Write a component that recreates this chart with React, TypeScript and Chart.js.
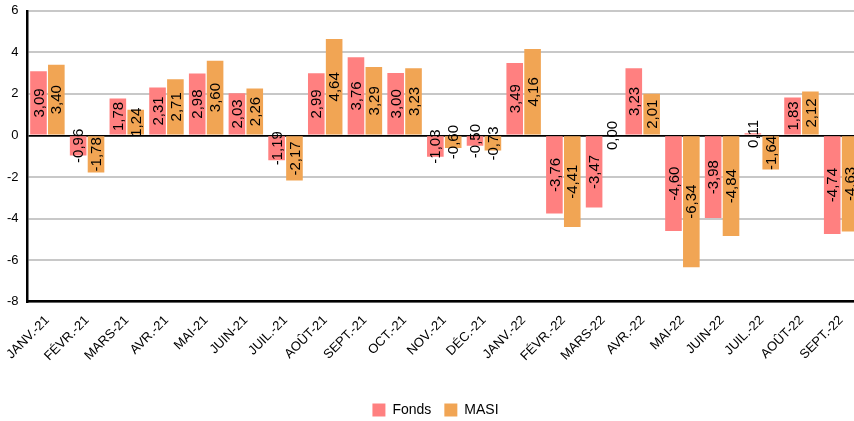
import React, { useEffect, useRef } from "react";
import { Chart, registerables } from "chart.js";

Chart.register(...registerables);

const categories = [
  "JANV.-21", "FÉVR.-21", "MARS-21", "AVR.-21", "MAI-21", "JUIN-21", "JUIL.-21",
  "AOÛT-21", "SEPT.-21", "OCT.-21", "NOV.-21", "DÉC.-21", "JANV.-22", "FÉVR.-22",
  "MARS-22", "AVR.-22", "MAI-22", "JUIN-22", "JUIL.-22", "AOÛT-22", "SEPT.-22",
];

const fonds = [
  3.09, -0.96, 1.78, 2.31, 2.98, 2.03, -1.19, 2.99, 3.76, 3.0, -1.03, -0.5, 3.49,
  -3.76, -3.47, 3.23, -4.6, -3.98, 0.11, 1.83, -4.74,
];

const masi = [
  3.4, -1.78, 1.24, 2.71, 3.6, 2.26, -2.17, 4.64, 3.29, 3.23, -0.6, -0.73, 4.16,
  -4.41, 0.0, 2.01, -6.34, -4.84, -1.64, 2.12, -4.63,
];

const yMin = -8;
const yMax = 6;
const yStep = 2;

const FONT = "'Liberation Sans', Arial, sans-serif";

const valueLabels = {
  id: "valueLabels",
  afterDatasetsDraw(chart: any) {
    const ctx = chart.ctx;
    ctx.save();
    ctx.font = `15px ${FONT}`;
    ctx.fillStyle = "#000";
    ctx.textAlign = "center";
    ctx.textBaseline = "middle";
    chart.data.datasets.forEach((ds: any, di: number) => {
      const meta = chart.getDatasetMeta(di);
      meta.data.forEach((bar: any, i: number) => {
        const v = ds.data[i];
        const txt = v.toFixed(2).replace(".", ",");
        const cy = (bar.y + bar.base) / 2;
        ctx.save();
        ctx.translate(bar.x, cy);
        ctx.rotate(-Math.PI / 2);
        ctx.fillText(txt, 0, 1);
        ctx.restore();
      });
    });
    ctx.restore();
  },
};

export default function App() {
  const ref = useRef<HTMLCanvasElement>(null);
  useEffect(() => {
    if (!ref.current) return;
    const chart = new Chart(ref.current, {
      type: "bar",
      data: {
        labels: categories,
        datasets: [
          { label: "Fonds", data: fonds, backgroundColor: "rgb(255,128,128)" },
          { label: "MASI", data: masi, backgroundColor: "rgb(241,165,84)" },
        ],
      },
      options: {
        animation: false,
        responsive: true,
        maintainAspectRatio: false,
        layout: { padding: { left: 4, right: 0, top: 0, bottom: -6 } },
        datasets: {
          bar: { categoryPercentage: 0.9, barPercentage: 0.93 },
        },
        plugins: {
          legend: {
            position: "bottom",
            labels: {
              boxWidth: 13,
              boxHeight: 13,
              padding: 13,
              color: "#000",
              font: { family: FONT, size: 14 },
            },
          },
          tooltip: { enabled: false },
        },
        scales: {
          x: {
            grid: { display: false },
            border: { display: true, color: "#000", width: 2.5 },
            afterFit: (s: any) => {
              s.height += 23;
            },
            ticks: {
              color: "#000",
              minRotation: 45,
              maxRotation: 45,
              autoSkip: false,
              font: { family: FONT, size: 13 },
            },
          },
          y: {
            min: yMin,
            max: yMax,
            grid: {
              drawTicks: true,
              tickLength: 6,
              tickColor: "rgba(0,0,0,0)",
              color: (c: any) => (c.tick && c.tick.value === 0 ? "#000" : "#c8c8c8"),
              lineWidth: (c: any) => (c.tick && c.tick.value === 0 ? 1.7 : 2),
            },
            border: { display: true, color: "#000", width: 2.5 },
            ticks: {
              stepSize: yStep,
              padding: 3,
              color: "#000",
              font: { family: FONT, size: 13 },
              callback: (v: any) => String(v),
            },
          },
          spacer: {
            type: "linear",
            position: "right",
            display: true,
            grid: { display: false },
            border: { display: false },
            ticks: { display: false },
            afterFit: (s: any) => {
              s.width = 6;
            },
          },
        },
      },
      plugins: [valueLabels],
    });
    return () => chart.destroy();
  }, []);
  return (
    <div style={{ position: "fixed", left: 0, top: 0, width: 867, height: 421, background: "#fff" }}>
      <canvas ref={ref} />
    </div>
  );
}
